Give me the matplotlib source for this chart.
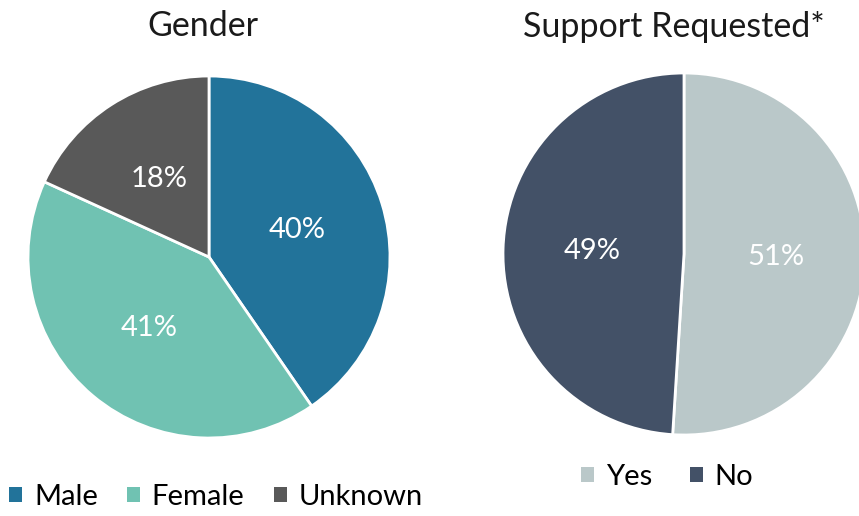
import matplotlib.pyplot as plt
from matplotlib.patches import Patch

# data
gender_labels = ["Male", "Female", "Unknown"]
gender_values = [40, 41, 18]
gender_colors = ["#22739A", "#70C2B2", "#595959"]

support_labels = ["Yes", "No"]
support_values = [51, 49]
support_colors = ["#BAC8C9", "#435167"]

plt.rcParams["font.family"] = ["Lato", "DejaVu Sans"]

fig = plt.figure(figsize=(8.59, 5.16), dpi=100)


def draw_pie(rect, values, colors, title, title_xy, legend_labels, legend_xy, ncol_spacing):
    ax = fig.add_axes(rect)
    ax.pie(
        values,
        colors=colors,
        startangle=90,
        counterclock=False,
        autopct="%d%%",
        pctdistance=0.51,
        wedgeprops=dict(edgecolor="white", linewidth=2),
        textprops=dict(color="white", fontsize=21),
    )
    ax.set_xlim(-1, 1)
    ax.set_ylim(-1, 1)
    for p in ax.patches:
        p.set_clip_on(False)
    fig.text(title_xy[0], title_xy[1], title, ha="center", va="center",
             fontsize=24.5, color="#1a1a1a")
    handles = [Patch(facecolor=c, edgecolor="none") for c in colors]
    fig.legend(
        handles,
        legend_labels,
        loc="center",
        bbox_to_anchor=legend_xy,
        ncol=len(legend_labels),
        frameon=False,
        fontsize=21,
        handlelength=0.45,
        handleheight=0.45,
        handletextpad=0.4,
        columnspacing=ncol_spacing,
    )
    return ax


W, H = 859, 516
r = 181

draw_pie(
    [(209 - r) / W, (H - 257 - r) / H, 2 * r / W, 2 * r / H],
    gender_values, gender_colors, "Gender", (203 / W, 1 - 26 / H),
    gender_labels, (216 / W, 1 - 497 / H), 1.0,
)
draw_pie(
    [(684 - r) / W, (H - 254 - r) / H, 2 * r / W, 2 * r / H],
    support_values, support_colors, "Support Requested*", (674 / W, 1 - 27 / H),
    support_labels, (667 / W, 1 - 477 / H), 1.3,
)

fig.savefig("out.png", dpi=100)
